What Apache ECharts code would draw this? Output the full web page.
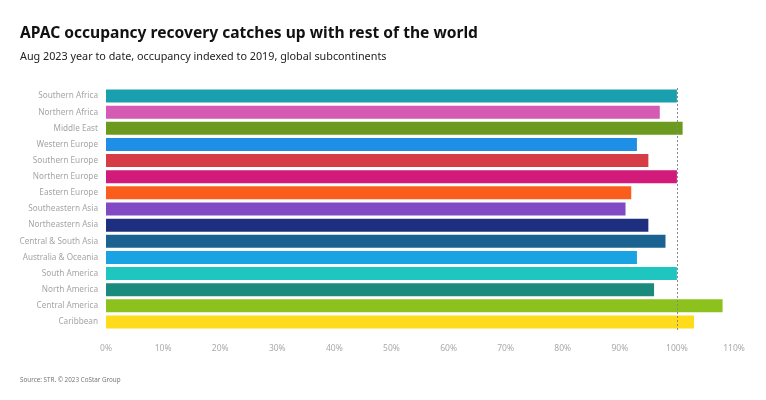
<!DOCTYPE html>
<html>
<head>
    <meta charset="utf-8">
    <script src="https://cdn.jsdelivr.net/npm/echarts@6/dist/echarts.min.js"></script>
    <style>
        body { margin: 0; background: #fff; }
    </style>
</head>
<body>
    <div id="main" style="width: 766px;height:400px;"></div>
    <script type="text/javascript">
        // 地区
        var regions = [
            'Southern Africa', 'Northern Africa', 'Middle East', 'Western Europe',
            'Southern Europe', 'Northern Europe', 'Eastern Europe', 'Southeastern Asia',
            'Northeastern Asia', 'Central & South Asia', 'Australia & Oceania',
            'South America', 'North America', 'Central America', 'Caribbean'
        ];
        // occupancy indexed to 2019 (%)
        var occupancy = [100, 97, 101, 93, 95, 100, 92, 91, 95, 98, 93, 100, 96, 108, 103];
        var barColors = [
            '#1a9fae', '#d35bb3', '#6b9a1e', '#1f8fe6', '#d63c46',
            '#d11a7a', '#fb5e1c', '#8149c4', '#1e2f7f', '#1a6391',
            '#1aa3e3', '#1ec6bf', '#1a8a7c', '#8dc11e', '#fedc1c'
        ];
        var referenceLine = 100;

        var option = {
            title: [
                {
                    text: 'APAC occupancy recovery catches up with rest of the world',
                    left: 15,
                    top: 21,
                    textStyle: {fontFamily: 'Noto Sans', fontSize: 15.6, fontWeight: 'bold', color: '#111'}
                },
                {
                    text: 'Aug 2023 year to date, occupancy indexed to 2019, global subcontinents',
                    left: 15,
                    top: 46,
                    textStyle: {fontFamily: 'Noto Sans', fontSize: 10.8, fontWeight: 'normal', color: '#222'}
                },
                {
                    text: 'Source: STR. © 2023 CoStar Group',
                    left: 15,
                    top: 372,
                    textStyle: {fontFamily: 'Noto Sans', fontSize: 6.3, fontWeight: 'normal', color: '#777'}
                }
            ],
            grid: {
                left: 106,
                right: 32,
                top: 88,
                bottom: 70
            },
            xAxis: {
                type: 'value',
                min: 0,
                max: 110,
                interval: 10,
                axisLine: {show: false},
                axisTick: {show: false},
                splitLine: {show: false},
                axisLabel: {
                    formatter: '{value}%',
                    color: '#aaa',
                    fontSize: 8.5,
                    fontFamily: 'Noto Sans',
                    margin: 14
                }
            },
            yAxis: {
                type: 'category',
                inverse: true,
                data: regions,
                axisLine: {show: false},
                axisTick: {show: false},
                axisLabel: {
                    color: '#a5a5a5',
                    fontSize: 8.2,
                    fontFamily: 'Noto Sans',
                    margin: 8
                }
            },
            series: [
                {
                    type: 'bar',
                    data: occupancy.map(function (v, i) {
                        return {value: v, itemStyle: {color: barColors[i]}};
                    }),
                    barWidth: 13,
                    z: 2,
                    markLine: {
                        silent: true,
                        symbol: 'none',
                        label: {show: false},
                        lineStyle: {color: '#888', type: [2, 2], width: 1},
                        data: [{xAxis: referenceLine}],
                        z: 5
                    }
                }
            ]
        };

        var myChart = echarts.init(document.getElementById('main'));
        myChart.setOption(option);
    </script>
</body>
</html>
